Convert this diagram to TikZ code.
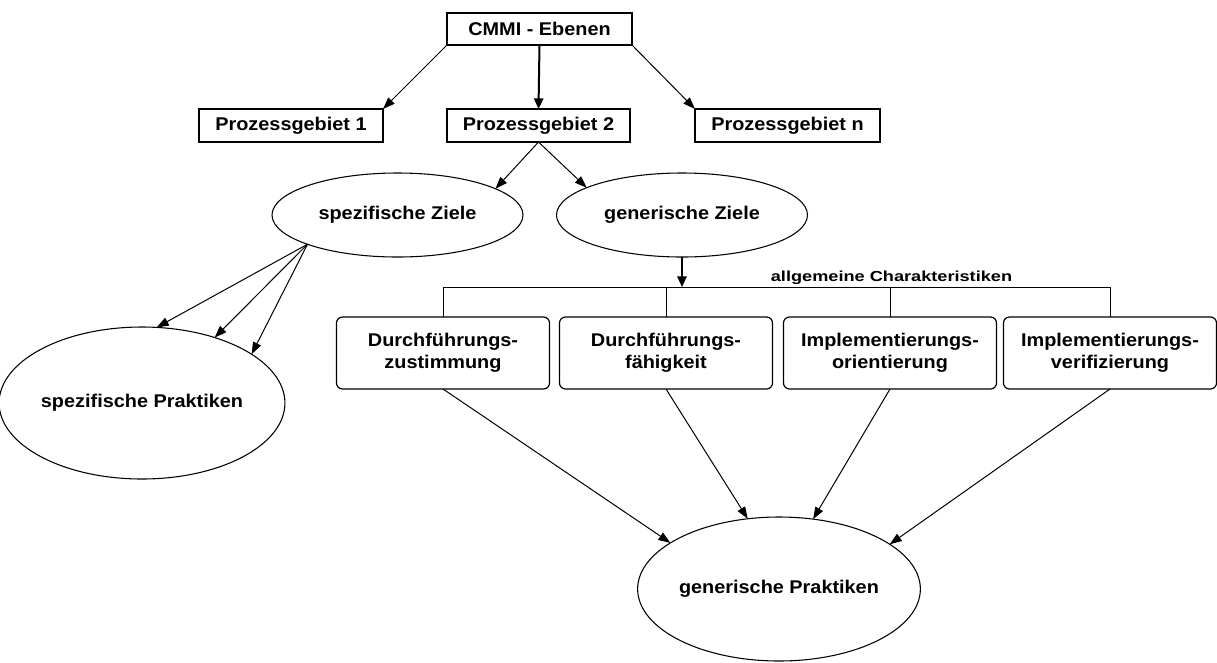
\documentclass[tikz,border=0pt]{standalone}
\usepackage{fontspec}
\setmainfont{Liberation Sans}[FakeStretch=1.08]
\newfontfamily\charfont{Liberation Sans}[FakeStretch=1.25]
\usetikzlibrary{shapes.geometric,arrows.meta}

\begin{document}
\begin{tikzpicture}[x=0.75pt,y=-0.75pt,
  every node/.style={font=\fontsize{13.8}{16.5}\selectfont\bfseries, inner sep=0pt, outer sep=0pt},
  box/.style={draw, line width=0.9pt, minimum height=33*0.75pt},
  cbox/.style={draw, rounded corners=4.5pt, line width=0.9pt, minimum width=213*0.75pt,
    minimum height=72*0.75pt, align=center},
  ell/.style={draw, ellipse, line width=0.8pt},
  conn/.style={draw, line width=0.75pt},
  arr/.style={conn, -{Triangle[length=9pt,width=6.5pt]}},
  thickarr/.style={draw, line width=1.5pt, -{Triangle[length=8pt,width=7pt]}}
]
\fill[white] (0,0) rectangle (1217,662);
\useasboundingbox (0,0) rectangle (1217,662);

% top level and process areas
\node[box, minimum width=185*0.75pt, minimum height=32*0.75pt] (cmmi) at (539.5,29) {CMMI - Ebenen};
\node[box, minimum width=184*0.75pt] (pg1) at (291,125.5) {Prozessgebiet 1};
\node[box, minimum width=183*0.75pt] (pg2) at (538.5,125.5) {Prozessgebiet 2};
\node[box, minimum width=185*0.75pt] (pgn) at (787.5,125.5) {Prozessgebiet n};

% goals
\node[ell, minimum width=251*0.75pt, minimum height=84*0.75pt] (sz) at (397.5,215) {spezifische Ziele};
\node[ell, minimum width=251*0.75pt, minimum height=84*0.75pt] (gz) at (682,215) {generische Ziele};

% practices
\node[ell, minimum width=260*0.75pt, minimum height=152*0.75pt] (sp) at (142,403) {spezifische Praktiken};
\node[ell, minimum width=258*0.75pt, minimum height=144*0.75pt] (gp) at (779,589) {generische Praktiken};

% common features
\node[cbox] (b1) at (443,353) {Durchführungs-\\zustimmung};
\node[cbox] (b2) at (666,353) {Durchführungs-\\fähigkeit};
\node[cbox] (b3) at (890,353) {Implementierungs-\\orientierung};
\node[cbox] (b4) at (1110,353) {Implementierungs-\\verifizierung};

% bus line above the common features
\coordinate (bus) at (682,287);
\draw[conn] (b1.north) |- (b4.north |- bus) -- (b4.north);
\draw[conn] (b2.north) -- (b2.north |- bus);
\draw[conn] (b3.north) -- (b3.north |- bus);
\draw[thickarr] (gz.south) -- (bus);
\node[font=\charfont\fontsize{10.9}{13}\selectfont\bfseries, anchor=base] (lab) at (891.5,281) {allgemeine Charakteristiken};

% connectors
\draw[arr] (cmmi.south west) -- (pg1.north east);
\draw[thickarr] (cmmi.south) -- (pg2.north);
\draw[arr] (cmmi.south east) -- (pgn.north west);
\draw[arr] (pg2.south) -- (sz.15);
\draw[arr] (pg2.south) -- (gz.164);
\draw[arr] (sz.198) -- (sp.79);
\draw[arr] (sz.198) -- (sp.42);
\draw[arr] (sz.198) -- (sp.24);
\draw[arr] (b1.south) -- (gp.157);
\draw[arr] (b2.south) -- (gp.114);
\draw[arr] (b3.south) -- (gp.64);
\draw[arr] (b4.south) -- (gp.22);
\end{tikzpicture}
\end{document}
